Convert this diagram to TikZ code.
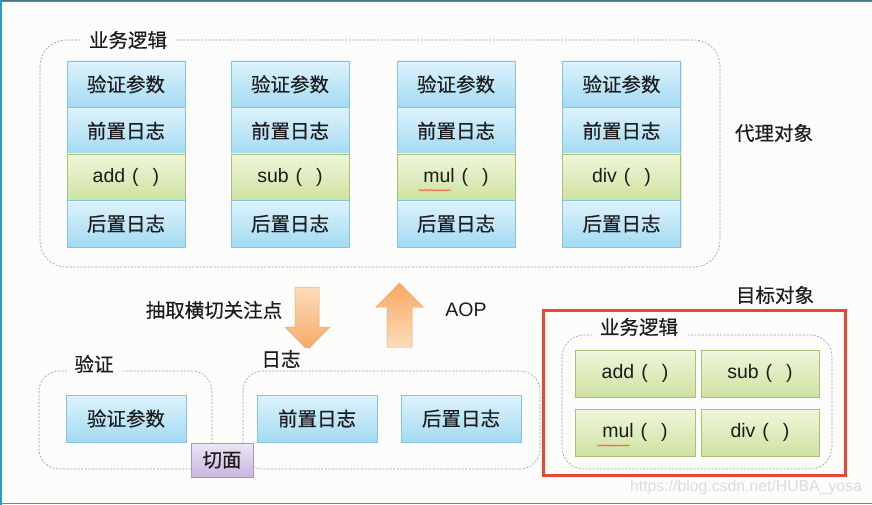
\documentclass[tikz,border=0pt]{standalone}
\usepackage{fontspec}
\setmainfont{Noto Sans CJK SC}[FakeBold=0.35]
\newfontfamily\lat{Liberation Sans}
\usetikzlibrary{shadows,decorations.pathmorphing,calc}
\definecolor{bg}{HTML}{FCFCFA}
\definecolor{bluet}{HTML}{DDF3FC}
\definecolor{blueb}{HTML}{A3DAF2}
\definecolor{bluebd}{HTML}{86C3E2}
\definecolor{greent}{HTML}{F0F6DA}
\definecolor{greenb}{HTML}{CDE2A0}
\definecolor{greenbd}{HTML}{A6C278}
\definecolor{purt}{HTML}{EEE6F6}
\definecolor{purb}{HTML}{C8B5E0}
\definecolor{purbd}{HTML}{A994CB}
\definecolor{dashc}{HTML}{8E9CB2}
\definecolor{redc}{HTML}{EA4633}
\definecolor{arrlight}{HTML}{FDDCBC}
\definecolor{arrdark}{HTML}{F5A862}
\definecolor{arrbd}{HTML}{EFA76A}
\definecolor{txt}{HTML}{1C1C1C}
\definecolor{frameblue}{HTML}{2E9AD3}
\definecolor{frametop}{HTML}{45768F}
\newcommand{\fn}[1]{{\lat #1\hspace{7pt}(\hspace{14pt})}}
\begin{document}
\begin{tikzpicture}[x=1pt,y=-1pt,
  font=\fontsize{19.5}{22}\selectfont, text=txt,
  boxbase/.style={line width=0.6pt, inner sep=0pt, minimum width=118pt, minimum height=46.5pt,
    drop shadow={opacity=0.18, shadow xshift=1pt, shadow yshift=-1.2pt}},
  bluebox/.style={boxbase, draw=bluebd, top color=bluet, bottom color=blueb},
  greenbox/.style={boxbase, draw=greenbd, top color=greent, bottom color=greenb},
  purplebox/.style={boxbase, draw=purbd, top color=purt, bottom color=purb, minimum width=62pt, minimum height=34pt},
  group/.style={draw=dashc, line width=0.6pt, dash pattern=on 2pt off 1.6pt},
  gtitle/.style={fill=bg, inner xsep=8pt, inner ysep=2pt},
  label/.style={},
  bigarrow/.style={draw=arrbd, line width=0.5pt},
  squig/.style={draw=red!80, line width=0.5pt, decorate, decoration={snake, amplitude=0.7pt, segment length=3pt}}
]
\path[use as bounding box, fill=bg] (0,0) rectangle (872,505);
\draw[frametop, line width=1.5pt] (0,0.75) -- (872,0.75);
\draw[frameblue, line width=1pt] (0,2) -- (872,2);
\draw[frameblue, line width=1.5pt] (1,0) -- (1,505);
\draw[frameblue, line width=1.5pt] (0,503.5) -- (872,503.5);

% top group (proxy objects)
\draw[group, rounded corners=26pt] (40,40) rectangle (720,267);
\node[gtitle] (t1) at (128,40) {业务逻辑};
\node[label] (proxy) at (774,133) {代理对象};

% four columns
\foreach \c/\x/\m in {1/126/add, 2/290/sub, 3/456/mul, 4/621.5/div}{
  \node[bluebox] (c\c r1) at (\x,84.25) {验证参数};
  \node[bluebox] (c\c r2) at (\x,130.75) {前置日志};
  \node[greenbox] (c\c r3) at (\x,177.25) {\fn{\m}};
  \node[bluebox] (c\c r4) at (\x,223.75) {后置日志};
}
\draw[squig] ($(c3r3.center)+(-38,13)$) -- ++(33,0);

% arrows
\shade[bigarrow, top color=arrlight, bottom color=arrdark]
  (295,287) -- (319,287) -- (319,327) -- (330,327) -- (307.5,350) -- (285,327) -- (295,327) -- cycle;
\shade[bigarrow, top color=arrdark, bottom color=arrlight]
  (387,347) -- (412,347) -- (412,307) -- (423,307) -- (399.5,283) -- (376,307) -- (387,307) -- cycle;
\node[label] (extract) at (214,310) {抽取横切关注点};
\node[label, font=\lat\fontsize{19.5}{22}\selectfont] (aop) at (466,310) {AOP};

% aspect groups
\draw[group, rounded corners=20pt] (39,371) rectangle (212,469);
\node[gtitle] (t2) at (94,364) {验证};
\draw[group, rounded corners=20pt] (243,371) rectangle (540,469);
\node[gtitle] (t3) at (281,359) {日志};
\node[bluebox, minimum width=120pt, minimum height=47pt] (v) at (126,418.5) {验证参数};
\node[bluebox, minimum width=120pt, minimum height=47pt] (pre) at (317,418.5) {前置日志};
\node[bluebox, minimum width=120pt, minimum height=47pt] (post) at (461,418.5) {后置日志};
\node[purplebox] (aspect) at (222,460) {切面};

% target object
\node[label] (target) at (775,295) {目标对象};
\draw[redc, line width=3pt] (543,310) rectangle (845,475);
\draw[group, rounded corners=22pt] (562,335) rectangle (832,469);
\node[gtitle] (t4) at (639,327) {业务逻辑};
\node[greenbox, minimum width=120pt, minimum height=47pt] (add) at (635,373.5) {\fn{add}};
\node[greenbox, minimum width=118pt, minimum height=47pt] (sub) at (760,373.5) {\fn{sub}};
\node[greenbox, minimum width=120pt, minimum height=47pt] (mul) at (635,432.5) {\fn{mul}};
\node[greenbox, minimum width=118pt, minimum height=47pt] (div) at (760,432.5) {\fn{div}};
\draw[squig] ($(mul.center)+(-38,13)$) -- ++(33,0);

\node[text=black!14, font=\lat\fontsize{15.8}{17}\selectfont] (wm) at (746,487) {https://blog.csdn.net/HUBA\_yosa};
\end{tikzpicture}
\end{document}
